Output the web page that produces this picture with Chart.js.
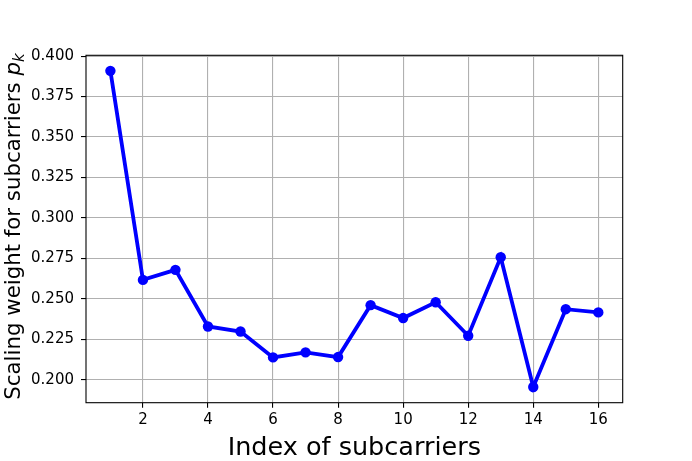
<!DOCTYPE html>
<html><head><meta charset="utf-8">
<script src="https://cdn.jsdelivr.net/npm/chart.js@4/dist/chart.umd.min.js"></script>
<style>html,body{margin:0;padding:0;background:#fff}#wrap{width:692px;height:461px}</style>
</head><body><div id="wrap"><canvas id="c" width="692" height="461"></canvas></div>
<script>
const subcarrierIndex = [1,2,3,4,5,6,7,8,9,10,11,12,13,14,15,16];
const scalingWeight = [0.3909,0.2617,0.2679,0.2329,0.2298,0.2138,0.2169,0.2140,0.2461,0.2381,0.2479,0.2272,0.2757,0.1955,0.2436,0.2416];
const xTickValues = [2,4,6,8,10,12,14,16];
const yTickValues = [0.200,0.225,0.250,0.275,0.300,0.325,0.350,0.375,0.400];
const xAxisTitle = "Index of subcarriers";
const yAxisTitleMain = "Scaling weight for subcarriers ";
const yAxisTitleSym = "p";
const yAxisTitleSub = "k";

const FONT = "'DejaVu Sans', sans-serif";

const framePlugin = {
  id: 'frameAndTitles',
  afterDraw(chart) {
    const ctx = chart.ctx;
    const a = chart.chartArea;
    ctx.save();
    ctx.strokeStyle = '#000';
    ctx.lineWidth = 1.1;
    ctx.strokeRect(a.left, a.top, a.right - a.left, a.bottom - a.top);
    // x title
    ctx.fillStyle = '#000';
    ctx.font = "25.5px " + FONT;
    ctx.textAlign = 'center';
    ctx.textBaseline = 'alphabetic';
    ctx.fillText(xAxisTitle, (a.left + a.right) / 2, 455);
    // y title (rotated, mixed style)
    const mainFont = "21.3px " + FONT;
    const symFont = "italic 21.3px " + FONT;
    const subFont = "italic 15px " + FONT;
    ctx.font = mainFont; const w1 = ctx.measureText(yAxisTitleMain).width;
    ctx.font = symFont; const w2 = ctx.measureText(yAxisTitleSym).width;
    ctx.font = subFont; const w3 = ctx.measureText(yAxisTitleSub).width;
    const total = w1 + w2 + w3;
    const cy = (a.top + a.bottom) / 2 - 2.5;
    ctx.translate(19.5, cy);
    ctx.rotate(-Math.PI / 2);
    ctx.textAlign = 'left';
    let x0 = -total / 2;
    ctx.font = mainFont; ctx.fillText(yAxisTitleMain, x0, 0); x0 += w1;
    ctx.font = symFont; ctx.fillText(yAxisTitleSym, x0, 0); x0 += w2;
    ctx.font = subFont; ctx.fillText(yAxisTitleSub, x0, 4);
    ctx.restore();
  }
};

new Chart(document.getElementById('c'), {
  type: 'line',
  data: {
    datasets: [{
      data: subcarrierIndex.map((x, i) => ({x: x, y: scalingWeight[i]})),
      borderColor: '#0000ff',
      backgroundColor: '#0000ff',
      borderWidth: 3.8,
      pointRadius: 5.2,
      pointHoverRadius: 5.2,
      pointBorderWidth: 0,
      pointBackgroundColor: '#0000ff',
      tension: 0,
      fill: false
    }]
  },
  options: {
    responsive: false,
    devicePixelRatio: 1,
    animation: false,
    layout: { padding: { left: 0, right: 69.3, top: 55.3, bottom: 0 } },
    plugins: { legend: { display: false }, tooltip: { enabled: false } },
    scales: {
      x: {
        type: 'linear',
        min: 0.25, max: 16.75,
        afterBuildTicks: s => { s.ticks = xTickValues.map(v => ({value: v})); },
        afterFit: s => { s.height = 58.3; },
        grid: { color: '#b0b0b0', lineWidth: 1.1, drawTicks: true, tickLength: 5, tickColor: '#000', tickWidth: 1.1 },
        border: { display: false },
        ticks: { color: '#000', font: { family: FONT, size: 15 }, padding: 3, maxRotation: 0, autoSkip: false }
      },
      y: {
        type: 'linear',
        min: 0.1858, max: 0.4005,
        afterBuildTicks: s => { s.ticks = yTickValues.map(v => ({value: v})); },
        afterFit: s => { s.width = 86; },
        grid: { color: '#b0b0b0', lineWidth: 1.1, drawTicks: true, tickLength: 5, tickColor: '#000', tickWidth: 1.1 },
        border: { display: false },
        ticks: { color: '#000', font: { family: FONT, size: 15 }, padding: 7, autoSkip: false,
          callback: v => Number(v).toFixed(3) }
      }
    }
  },
  plugins: [framePlugin]
});
</script></body></html>
